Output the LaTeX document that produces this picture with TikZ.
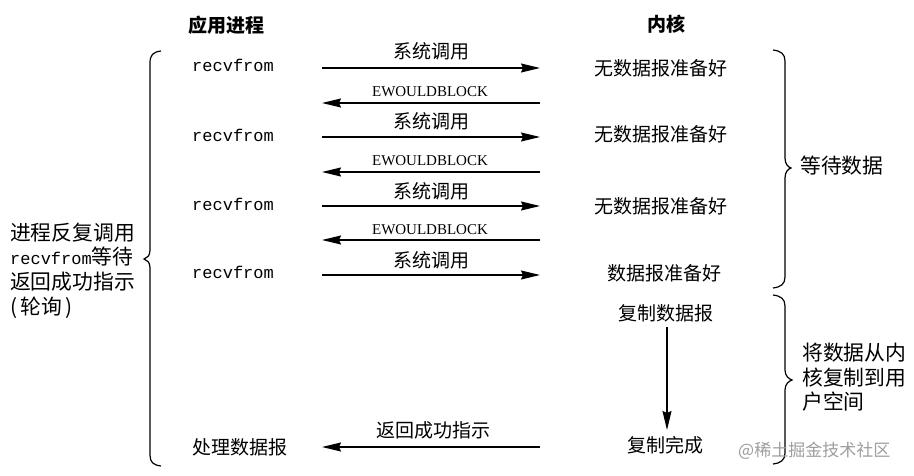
\documentclass[tikz,border=0pt]{standalone}
\usepackage{fontspec}
\setmainfont{Liberation Serif}
\setmonofont{Liberation Mono}
\newfontfamily\cjk{Noto Sans CJK SC}
\usetikzlibrary{arrows.meta}
\begin{document}
\begin{tikzpicture}[x=1pt,y=-1pt,
  cn/.style={inner sep=0pt, anchor=base, font=\cjk\fontsize{19}{19}\selectfont},
  cnw/.style={cn, anchor=base west},
  hd/.style={cn, font=\cjk\bfseries\fontsize{19}{19}\selectfont},
  side/.style={inner sep=0pt, anchor=base west, font=\cjk\fontsize{20.8}{20.8}\selectfont},
  mono/.style={inner sep=0pt, anchor=base west, font=\ttfamily\fontsize{17}{17}\selectfont},
  ew/.style={inner sep=0pt, anchor=base, font=\fontsize{15}{15}\selectfont},
  arr/.style={-{Stealth[length=19pt,width=9pt,inset=2pt]}, line width=1.3pt},
  brace/.style={line width=1.2pt},
  wm/.style={inner sep=0pt, anchor=base west, text=black!38, font=\cjk\fontsize{17}{17}\selectfont},
]
\useasboundingbox[fill=white] (0,0) rectangle (914,476);

% headers
\node[hd] (happ) at (226,33) {应用进程};
\node[hd] (hker) at (666,32) {内核};

% application side
\node[mono] (rf1) at (192,72) {recvfrom};
\node[mono] (rf2) at (192,141.5) {recvfrom};
\node[mono] (rf3) at (192,210.5) {recvfrom};
\node[mono] (rf4) at (192,279) {recvfrom};
\node[cnw] (proc) at (192,454) {处理数据报};

% kernel side
\node[cn] (k1) at (661,76) {无数据报准备好};
\node[cn] (k2) at (661,142) {无数据报准备好};
\node[cn] (k3) at (661,214) {无数据报准备好};
\node[cn] (k4) at (664,280) {数据报准备好};
\node[cn] (cp) at (666,320) {复制数据报};
\node[cn] (done) at (665,452) {复制完成};

% arrow end points
\foreach \i/\y in {1/68,2/137,3/206,4/275}{
  \coordinate (ra\i) at (322,\y);
  \coordinate (rb\i) at (540,\y);
}
\foreach \i/\y in {1/103,2/172,3/240,4/447}{
  \coordinate (la\i) at (540,\y);
  \coordinate (lb\i) at (322,\y);
}
\coordinate (v1) at (667,327);
\coordinate (v2) at (667,430);

% system calls
\foreach \i in {1,2,3,4}{
  \draw[arr] (ra\i) -- (rb\i);
}
\node[cn] (s1) at (431,59) {系统调用};
\node[cn] (s2) at (431,129) {系统调用};
\node[cn] (s3) at (431,199) {系统调用};
\node[cn] (s4) at (431,267) {系统调用};

% EWOULDBLOCK returns
\foreach \i in {1,2,3,4}{
  \draw[arr] (la\i) -- (lb\i);
}
\node[ew] (e1) at (430,97) {EWOULDBLOCK};
\node[ew] (e2) at (430,166) {EWOULDBLOCK};
\node[ew] (e3) at (430,234) {EWOULDBLOCK};
\node[cn] (ok) at (433,437) {返回成功指示};

% copy arrow
\draw[arr] (v1) -- (v2);

% left brace
\draw[brace] (161,51) .. controls (153,52) and (150,55) .. (150,63) -- (150,250)
  .. controls (150,256) and (147,258) .. (144,259)
  .. controls (147,260) and (150,262) .. (150,268) -- (150,455)
  .. controls (150,462) and (153,465) .. (161,466);
% right brace 1
\draw[brace] (773,50) .. controls (781,51) and (785,54) .. (785,61) -- (785,158)
  .. controls (785,164) and (788,167) .. (791,168)
  .. controls (788,169) and (785,172) .. (785,178) -- (785,277)
  .. controls (785,284) and (781,287) .. (773,288);
% right brace 2
\draw[brace] (773,295) .. controls (781,296) and (785,299) .. (785,306) -- (785,370)
  .. controls (785,376) and (789,379) .. (792,380)
  .. controls (789,381) and (785,384) .. (785,390) -- (785,453)
  .. controls (785,460) and (781,463) .. (773,464);

% left description
\node[side] (l1) at (10,240.5) {进程反复调用};
\node[side] (l2) at (10,265) {{\ttfamily\fontsize{17}{17}\selectfont recvfrom}等待};
\node[side] (l3) at (10,289.5) {返回成功指示};
\node[side] (l4) at (10,314) {(\,轮询\,)};

% right descriptions
\node[side] (w1) at (800,174) {等待数据};
\node[side] (c1) at (802,360.5) {将数据从内};
\node[side] (c2) at (802,385.5) {核复制到用};
\node[side] (c3) at (802,409.5) {户空间};

% watermark
\node[wm] (wmk) at (738,456.5) {@稀土掘金技术社区};
\end{tikzpicture}
\end{document}
